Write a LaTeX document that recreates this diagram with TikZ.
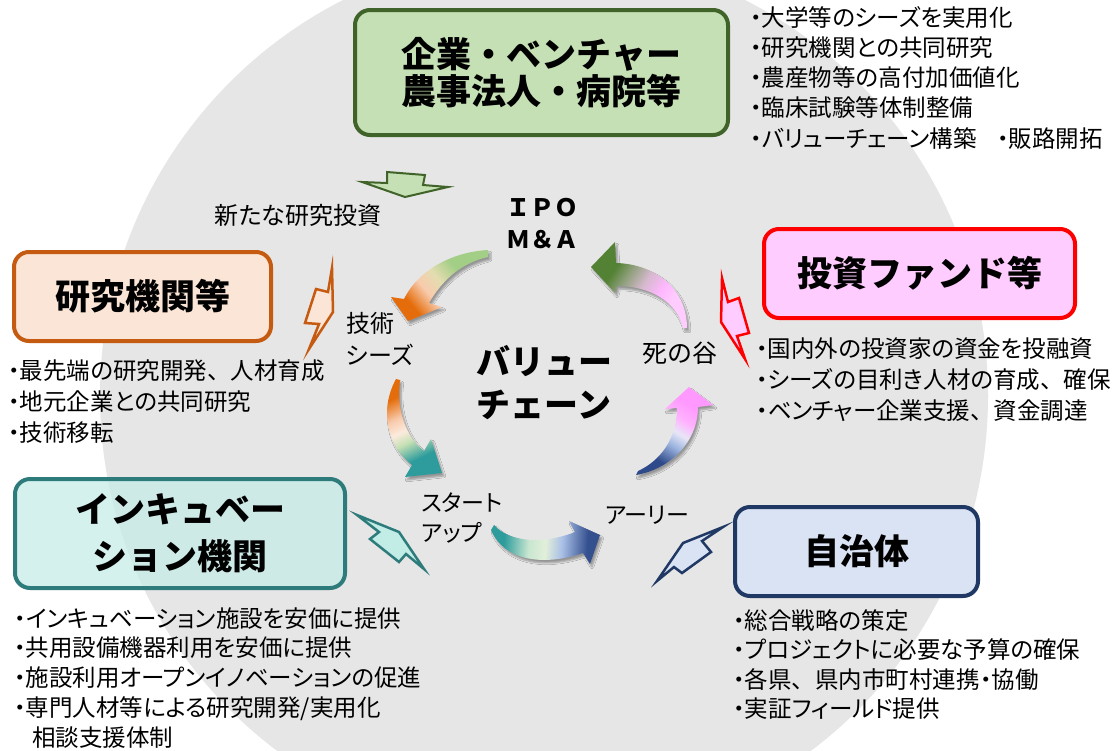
\documentclass[tikz,border=0pt]{standalone}
\usepackage{fontspec}
\usetikzlibrary{shadows.blur}
\newfontfamily\jp{Noto Sans CJK JP}[RawFeature=+palt]
\newfontfamily\jpf{Noto Sans CJK JP}
\newcommand\jcomma{{\jpf 、}}
\definecolor{bggray}{HTML}{E7E6E6}
\definecolor{gfill}{HTML}{C5E0B4}
\definecolor{gbord}{HTML}{3F6328}
\definecolor{pfill}{HTML}{FBE5D6}
\definecolor{pbord}{HTML}{C55A11}
\definecolor{kfill}{HTML}{FFCCFF}
\definecolor{kbord}{HTML}{FF0000}
\definecolor{tfill}{HTML}{C2ECE6}
\definecolor{tbord}{HTML}{2E7B7B}
\definecolor{bfill}{HTML}{DAE3F3}
\definecolor{bbord}{HTML}{203864}
% gradient colours
\definecolor{aA}{HTML}{A3CE86}\definecolor{aB}{HTML}{E3DDB0}\definecolor{aC}{HTML}{F8CBAD}\definecolor{aD}{HTML}{E46C0A}
\definecolor{bA}{HTML}{E46C0A}\definecolor{bB}{HTML}{F8CBAD}\definecolor{bC}{HTML}{FBEBDD}\definecolor{bD}{HTML}{C5E0B4}\definecolor{bE}{HTML}{2E9C9C}
\definecolor{cA}{HTML}{2E9C9C}\definecolor{cB}{HTML}{C8E6D0}\definecolor{cC}{HTML}{E2EFDA}\definecolor{cD}{HTML}{A9BFE6}\definecolor{cE}{HTML}{34508F}
\definecolor{dA}{HTML}{2F4A8A}\definecolor{dB}{HTML}{9DB5E0}\definecolor{dC}{HTML}{E8E6F6}\definecolor{dD}{HTML}{FFB3FF}\definecolor{dE}{HTML}{FF99FF}
\definecolor{eA}{HTML}{FFCCFF}\definecolor{eB}{HTML}{FFB8FF}\definecolor{eC}{HTML}{D6B9CE}\definecolor{eD}{HTML}{8FA07C}\definecolor{eE}{HTML}{548235}
\pgfdeclarehorizontalshading{shA}{100bp}{color(0bp)=(aA); color(36bp)=(aA); color(48bp)=(aB); color(58bp)=(aC); color(70bp)=(aD); color(100bp)=(aD)}
\pgfdeclarehorizontalshading{shB}{100bp}{color(0bp)=(bA); color(30bp)=(bA); color(42bp)=(bB); color(50bp)=(bC); color(57bp)=(bD); color(68bp)=(bE); color(100bp)=(bE)}
\pgfdeclarehorizontalshading{shC}{100bp}{color(0bp)=(cA); color(30bp)=(cA); color(42bp)=(cB); color(50bp)=(cC); color(58bp)=(cD); color(70bp)=(cE); color(100bp)=(cE)}
\pgfdeclarehorizontalshading{shD}{100bp}{color(0bp)=(dA); color(30bp)=(dA); color(42bp)=(dB); color(50bp)=(dC); color(58bp)=(dD); color(68bp)=(dE); color(100bp)=(dE)}
\pgfdeclarehorizontalshading{shE}{100bp}{color(0bp)=(eA); color(30bp)=(eA); color(38bp)=(eB); color(48bp)=(eC); color(58bp)=(eD); color(66bp)=(eE); color(100bp)=(eE)}
\tikzset{
  titlebox/.style={rounded corners=15pt, line width=4pt, inner sep=0pt, align=center,
    font=\jpf\bfseries\fontsize{35}{37}\selectfont},
  listtxt/.style={inner sep=0pt, anchor=base west, font=\jp\fontsize{23.5}{30}\selectfont},
  lbl/.style={inner sep=0pt, font=\jp\fontsize{24}{30}\selectfont},
  bolt/.style={line width=2.5pt, line join=miter, miter limit=20},
  carrow/.style={blur shadow={shadow xshift=2pt, shadow yshift=-3pt, shadow opacity=35, shadow blur steps=6}},
}
\begin{document}
\begin{tikzpicture}[x=1pt,y=-1pt]
\useasboundingbox (0,0) rectangle (1115,750);
\clip (0,0) rectangle (1115,750);
\fill[white] (0,0) rectangle (1115,750);
\fill[bggray] (544,396) circle[radius=444pt];

% boxes
\node[titlebox, draw=gbord, fill=gfill, minimum width=373pt, minimum height=125pt] (kigyo) at (541.5,72.5) {企業・ベンチャー\\農事法人・病院等};
\node[titlebox, draw=pbord, fill=pfill, minimum width=257pt, minimum height=89pt] (kenkyu) at (142.5,296.5) {研究機関等};
\node[titlebox, draw=kbord, fill=kfill, minimum width=311pt, minimum height=89pt] (toushi) at (919.5,273.5) {投資ファンド等};
\node[titlebox, draw=tbord, fill=tfill, fill opacity=0.7, text opacity=1, minimum width=330pt, minimum height=109pt,
  font=\jpf\bfseries\fontsize{35}{47}\selectfont] (incub) at (180,533.5) {インキュベー\\ション機関};
\node[titlebox, draw=bbord, fill=bfill, minimum width=243pt, minimum height=89pt] (jichi) at (856.5,551.5) {自治体};

% lists
\foreach \t [count=\i] in {・大学等のシーズを実用化, ・研究機関との共同研究, ・農産物等の高付加価値化, ・臨床試験等体制整備, ・バリューチェーン構築\hspace{20pt}・販路開拓}
  \node[listtxt] (tr\i) at (750,{26+30.3*(\i-1)}) {\t};
\foreach \t [count=\i] in {・最先端の研究開発\jcomma 人材育成, ・地元企業との共同研究, ・技術移転}
  \node[listtxt] (kl\i) at (8,{379+31*(\i-1)}) {\t};
\foreach \t [count=\i] in {・国内外の投資家の資金を投融資, ・シーズの目利き人材の育成\jcomma 確保, ・ベンチャー企業支援\jcomma 資金調達}
  \node[listtxt] (fl\i) at (756,{357+31*(\i-1)}) {\t};
\foreach \t [count=\i] in {・インキュベーション施設を安価に提供, ・共用設備機器利用を安価に提供, ・施設利用オープンイノベーションの促進, ・専門人材等による研究開発/実用化, \hspace{18pt}相談支援体制}
  \node[listtxt] (il\i) at (14,{627+29.8*(\i-1)}) {\t};
\foreach \t [count=\i] in {・総合戦略の策定, ・プロジェクトに必要な予算の確保, ・各県\jcomma 県内市町村連携・協働, ・実証フィールド提供}
  \node[listtxt] (jl\i) at (733,{629+29.5*(\i-1)}) {\t};

% small block arrow
\filldraw[line width=2pt, line join=miter, draw=gbord, fill=gfill] (387,172) -- (425,175) -- (423,185) -- (448,187) -- (405,197) -- (362,182) -- (387,183) -- cycle;

% lightning arrows
\filldraw[bolt, draw=pbord, fill=pfill] (332,268) -- (328,292) -- (316,289) -- (305,323) -- (319,324) -- (309,349) -- (333,312) -- cycle;
\filldraw[bolt, draw=kbord, fill=kfill] (722,278) -- (728,302) -- (739,298) -- (749,333) -- (737,336) -- (745,359) -- (721,322) -- cycle;
\filldraw[bolt, draw=tbord, fill=tfill] (357,515) -- (399,532) -- (424,569) -- (406,554) -- (399,562) -- (370,539) -- (379,532) -- cycle;
\filldraw[bolt, draw=bbord, fill=bfill] (657,581) -- (683,543) -- (723,527) -- (702,541) -- (711,552) -- (682,573) -- (674,567) -- cycle;

% curved cycle arrows
\shade[carrow, shading=shA, shading angle=220] (488,250) .. controls (450,252) and (417,272) .. (404,299) -- (391,297) -- (408,321) -- (442,307) -- (429,303) .. controls (441,282) and (460,263) .. (488,257) -- cycle;
\shade[carrow, shading=shB, shading angle=296] (396,379) .. controls (379,410) and (387,446) .. (412,465) -- (405,477) -- (442,473) -- (431,439) -- (424,451) .. controls (406,437) and (396,410) .. (400,380) -- cycle;
\shade[carrow, shading=shC, shading angle=356] (494,525) .. controls (510,543) and (545,544) .. (575,532) -- (569,521) -- (600,535) -- (590,564) -- (583,553) .. controls (545,566) and (505,562) .. (491,530) -- cycle;
\shade[carrow, shading=shD, shading angle=58] (636,475) .. controls (671,469) and (698,441) .. (698,407) -- (713,405) -- (689,387) -- (665,409) -- (677,408) .. controls (677,439) and (660,461) .. (638,471) -- cycle;
\shade[carrow, shading=shE, shading angle=147] (687,328) .. controls (687,289) and (655,264) .. (616,263) -- (615,242) -- (591,267) -- (615,293) -- (617,286) .. controls (649,286) and (677,301) .. (683,328) -- cycle;

% labels
\node[lbl] (shinki) at (298,215) {新たな研究投資};
\node[inner sep=0pt, font=\jpf\bfseries\fontsize{24}{32}\selectfont, align=center] (ipo) at (542,224) {ＩＰＯ\\Ｍ＆Ａ};
\node[lbl, anchor=west, align=left, font=\jp\fontsize{24}{32}\selectfont] (seeds) at (346,339) {技術\\シーズ};
\node[inner sep=0pt, font=\jpf\bfseries\fontsize{34}{43}\selectfont, align=center] (vc) at (544,383) {バリュー\\チェーン};
\node[lbl, font=\jp\fontsize{25}{30}\selectfont] (shi) at (680,353) {死の谷};
\node[lbl, anchor=west, align=left, font=\jp\fontsize{23}{30}\selectfont] (start) at (421,518) {スタート\\アップ};
\node[lbl, font=\jp\fontsize{23}{30}\selectfont] (early) at (647,515) {アーリー};
\end{tikzpicture}
\end{document}
